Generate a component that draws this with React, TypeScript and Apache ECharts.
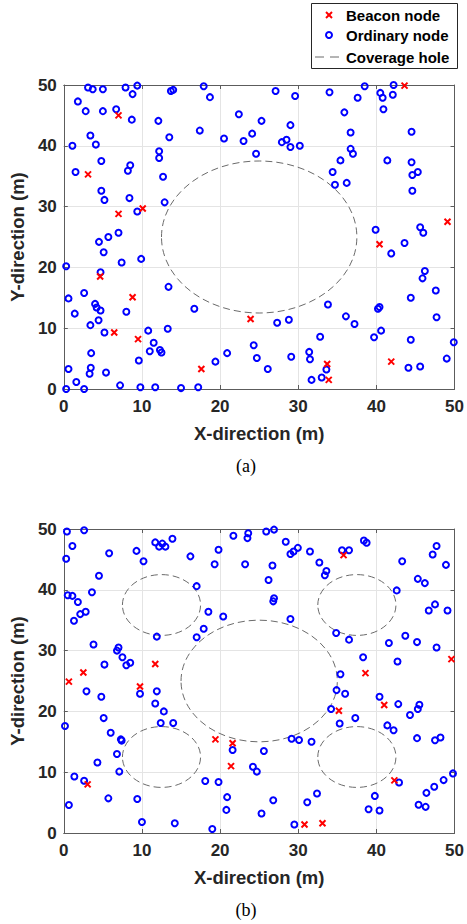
import React, { useEffect, useRef } from "react";
import * as echarts from "echarts";

// ---------- data (metres) ----------
const ordinaryA: number[][] = [
  [3.1, 49.6], [3.7, 49.3], [5.0, 49.3], [7.9, 49.6], [9.4, 49.9], [8.8, 48.5], [13.7, 49.0], [14.0, 49.2],
  [17.9, 49.8], [18.7, 48.0], [1.8, 47.3], [2.8, 45.7], [5.0, 45.7], [6.7, 46.0], [8.7, 44.3], [12.1, 44.1],
  [17.4, 42.5], [20.5, 41.2], [22.4, 45.2], [23.0, 40.8], [13.5, 41.4], [3.4, 41.7], [4.1, 40.2], [1.1, 40.0],
  [12.2, 39.1], [12.2, 38.0], [4.8, 37.5], [8.5, 36.8], [8.2, 35.9], [1.5, 35.7], [12.7, 34.9], [4.8, 32.6],
  [5.2, 31.1], [8.4, 31.4], [12.9, 30.7], [9.4, 29.2], [7.0, 25.7], [5.7, 25.0], [4.5, 24.2],
  [5.1, 22.5], [7.4, 20.8], [9.9, 21.4], [0.3, 20.2], [4.7, 19.2], [13.4, 16.8], [2.6, 15.8], [0.6, 14.9],
  [4.0, 14.0], [4.2, 13.4], [4.7, 12.9], [1.4, 12.4], [8.0, 12.7], [16.7, 13.2], [4.45, 11.3], [3.4, 10.5],
  [5.2, 9.3], [10.8, 9.6], [13.3, 9.9], [11.5, 7.6], [11.0, 6.2], [12.3, 6.4], [12.5, 6.0], [3.5, 5.9],
  [9.6, 4.7], [19.4, 4.5], [20.9, 5.9], [0.6, 3.3], [3.45, 3.5], [3.3, 2.5], [5.4, 2.7], [1.6, 1.15],
  [0.3, 0.0], [2.6, 0.0], [7.2, 0.6], [9.8, 0.3], [11.7, 0.3], [15.0, 0.15], [17.2, 0.3],
  [27.1, 49.0], [29.6, 48.2], [34.0, 48.8], [38.5, 49.8], [37.6, 47.9], [40.5, 48.7], [40.8, 47.9], [42.2, 50.0],
  [42.1, 48.4], [40.9, 46.0], [25.3, 44.1], [24.1, 42.0], [29.0, 43.4], [35.9, 45.5], [36.7, 42.2], [27.9, 40.6],
  [28.5, 41.0], [29.0, 39.8], [30.2, 40.0], [24.6, 38.7], [36.7, 39.5], [37.0, 38.7], [35.4, 37.6], [34.4, 35.7],
  [34.7, 33.6], [36.2, 33.9], [41.4, 37.6], [44.5, 42.3], [44.5, 37.3], [45.3, 35.7], [44.6, 35.2], [44.6, 32.6],
  [39.9, 26.2], [43.6, 24.0], [45.6, 26.6], [46.0, 25.7],
  [41.9, 22.3], [46.2, 19.4], [45.9, 18.2], [47.6, 16.2], [44.4, 15.0], [33.8, 13.9], [40.2, 13.2], [40.4, 13.5],
  [36.1, 11.95], [37.2, 10.7], [47.7, 11.8], [27.3, 10.9], [28.8, 11.4], [24.3, 7.2], [24.7, 5.1], [26.1, 3.3],
  [29.1, 5.3], [32.8, 8.6], [31.4, 6.1], [31.5, 4.9], [39.7, 8.5], [40.6, 9.6], [44.4, 8.1], [49.9, 7.7],
  [49.0, 5.0], [44.1, 3.5], [45.6, 3.7], [33.6, 3.2], [33.0, 1.9], [31.7, 1.5],
];

const beaconA: number[][] = [
  [7.0, 45.0], [3.1, 35.3], [10.1, 29.7], [7.0, 28.8], [4.65, 18.5], [8.8, 15.1], [6.45, 9.3], [9.5, 8.2],
  [17.6, 3.3], [23.9, 11.5], [33.7, 4.1], [33.9, 1.5], [41.9, 4.5], [40.4, 23.8], [49.1, 27.5], [43.6, 49.9],
];

// [centre x, centre y, radius]
const holesA: number[][] = [[25, 25, 12.5]];

const ordinaryB: number[][] = [
  [0.4, 49.6], [2.6, 49.8], [1.1, 47.2], [0.3, 45.1], [5.8, 46.0], [9.3, 46.4], [10.2, 44.7], [11.7, 47.8],
  [12.2, 47.1], [12.6, 47.6], [13.0, 47.1], [13.9, 48.4], [16.2, 45.5], [19.8, 46.6], [19.3, 44.2], [21.7, 48.9],
  [23.2, 44.2], [4.5, 42.3], [3.6, 39.6], [0.5, 39.1], [1.1, 39.0], [1.8, 38.0], [2.8, 36.4], [2.1, 36.0],
  [1.3, 34.9], [17.0, 40.6], [18.5, 36.4], [20.4, 35.6], [17.9, 33.6], [17.0, 32.2], [11.9, 32.3], [3.8, 31.0],
  [7.0, 30.5], [6.8, 30.0], [7.5, 28.9], [8.5, 28.0], [8.0, 27.6], [5.2, 27.7],
  [2.9, 23.3], [4.8, 22.4], [9.75, 22.9], [11.9, 23.3], [11.7, 21.3], [12.8, 20.0], [12.4, 18.1], [14.0, 18.1],
  [0.15, 17.6], [5.1, 18.9], [6.0, 16.5], [7.3, 15.4], [7.4, 15.2], [6.8, 13.0], [4.3, 11.6], [7.1, 10.1],
  [1.35, 9.3], [2.6, 8.6], [0.65, 4.6], [5.7, 5.7], [9.4, 5.6], [10.0, 1.8], [14.2, 1.6], [19.0, 0.65],
  [18.1, 8.55], [19.8, 8.4], [20.9, 5.9], [20.8, 3.8], [21.6, 13.65],
  [23.6, 49.3], [23.5, 48.5], [25.9, 49.6], [26.9, 49.9], [28.4, 47.9], [29.0, 45.9], [29.4, 46.3], [29.95, 46.9],
  [31.5, 46.3], [26.7, 44.0], [26.2, 41.6], [32.7, 44.5], [33.6, 43.1], [33.4, 42.4], [35.6, 46.5], [36.5, 46.5],
  [38.4, 48.1], [38.75, 47.75], [43.3, 44.7], [47.7, 47.2], [47.2, 45.8], [48.9, 44.1], [45.3, 41.8], [46.2, 41.1],
  [42.6, 39.9], [26.9, 38.6], [26.8, 38.1], [47.5, 37.6], [46.7, 36.6], [49.1, 36.6], [29.0, 35.2], [34.85, 32.9],
  [36.5, 31.8], [41.6, 31.25], [43.7, 32.45], [45.2, 31.4], [47.7, 30.5], [38.3, 28.9], [42.7, 28.2], [35.4, 26.1],
  [34.9, 23.5], [36.0, 22.9], [34.2, 20.4], [35.3, 18.0], [37.3, 18.9], [40.4, 22.4], [42.8, 21.2], [44.3, 19.4],
  [45.5, 21.1], [45.3, 20.4], [41.4, 17.7], [42.2, 16.9], [45.2, 15.6], [47.5, 15.25], [48.2, 15.7], [29.15, 15.5],
  [30.1, 15.3], [31.7, 15.0], [25.6, 13.5], [24.2, 10.9], [24.7, 10.1], [49.8, 9.8], [48.6, 8.7], [47.4, 7.6],
  [46.4, 6.6], [42.9, 8.3], [39.8, 6.1], [39.0, 3.9], [40.4, 3.7], [45.4, 4.65], [46.3, 4.3], [32.4, 6.5],
  [31.15, 5.05], [26.8, 5.4], [25.3, 3.2], [29.5, 1.4],
];

const beaconB: number[][] = [
  [11.7, 27.8], [2.5, 26.4], [0.65, 24.9], [9.75, 24.1], [3.05, 8.0], [19.4, 15.4], [21.6, 14.75], [21.4, 11.0],
  [35.8, 45.7], [49.6, 28.6], [38.6, 26.3], [35.2, 20.1], [41.0, 21.05], [42.3, 8.65], [30.8, 1.4], [33.1, 1.6],
];

const holesB: number[][] = [
  [25, 25, 10], [12.5, 37.5, 5], [37.5, 37.5, 5], [12.5, 12.5, 5], [37.5, 12.5, 5],
];

const axisMin = 0;
const axisMax = 50;
const axisStep = 10;
const xTitle = "X-direction (m)";
const yTitle = "Y-direction (m)";
const legendNames = ["Beacon node", "Ordinary node", "Coverage hole"];
const panelLabels = ["(a)", "(b)"];

// ---------- styling ----------
const FONT = "'Liberation Sans', Arial, sans-serif";
const AXIS_COLOR = "#5c5c5c";
const TEXT_COLOR = "#262626";
const GRID_COLOR = "#e4e4e4";
const HOLE_COLOR = "#6b6b6b";

const tickLabel = { fontFamily: FONT, fontSize: 17, fontWeight: "bold", color: TEXT_COLOR };
const titleStyle = { fontFamily: FONT, fontSize: 18.5, fontWeight: "bold", color: TEXT_COLOR };

function mainX(gridIndex: number) {
  return {
    type: "value", gridIndex, min: axisMin, max: axisMax, interval: axisStep, position: "bottom",
    name: xTitle, nameLocation: "middle", nameGap: 35, nameTextStyle: titleStyle,
    axisLine: { show: true, onZero: false, lineStyle: { color: AXIS_COLOR, width: 1 } },
    axisTick: { show: true, inside: true, length: 4, lineStyle: { color: AXIS_COLOR } },
    axisLabel: { margin: 9, ...tickLabel },
    splitLine: { show: true, lineStyle: { color: GRID_COLOR, width: 1 } },
  };
}
function boxX(gridIndex: number) {
  return {
    type: "value", gridIndex, min: axisMin, max: axisMax, interval: axisStep, position: "top",
    axisLine: { show: true, onZero: false, lineStyle: { color: AXIS_COLOR, width: 1 } },
    axisTick: { show: true, inside: true, length: 4, lineStyle: { color: AXIS_COLOR } },
    axisLabel: { show: false }, splitLine: { show: false },
  };
}
function mainY(gridIndex: number) {
  return {
    type: "value", gridIndex, min: axisMin, max: axisMax, interval: axisStep, position: "left",
    name: yTitle, nameLocation: "middle", nameGap: 30, nameTextStyle: titleStyle,
    axisLine: { show: true, onZero: false, lineStyle: { color: AXIS_COLOR, width: 1 } },
    axisTick: { show: true, inside: true, length: 4, lineStyle: { color: AXIS_COLOR } },
    axisLabel: { margin: 7, ...tickLabel },
    splitLine: { show: true, lineStyle: { color: GRID_COLOR, width: 1 } },
  };
}
function boxY(gridIndex: number) {
  return {
    type: "value", gridIndex, min: axisMin, max: axisMax, interval: axisStep, position: "right",
    axisLine: { show: true, onZero: false, lineStyle: { color: AXIS_COLOR, width: 1 } },
    axisTick: { show: true, inside: true, length: 4, lineStyle: { color: AXIS_COLOR } },
    axisLabel: { show: false }, splitLine: { show: false },
  };
}

function holeSeries(idx: number, data: number[][]) {
  return {
    type: "custom", xAxisIndex: idx, yAxisIndex: idx, data, silent: true, clip: false, z: 1,
    encode: { x: 0, y: 1 },
    renderItem: (_params: any, api: any) => {
      const c = api.coord([api.value(0), api.value(1)]);
      const s = api.size([api.value(2), api.value(2)]);
      return {
        type: "ellipse",
        shape: { cx: c[0], cy: c[1], rx: s[0], ry: s[1] },
        style: { fill: "none", stroke: HOLE_COLOR, lineWidth: 1, lineDash: [7, 4] },
      };
    },
  };
}
function nodeSeries(idx: number, data: number[][]) {
  return {
    type: "scatter", name: legendNames[1], xAxisIndex: idx, yAxisIndex: idx, data, clip: false, z: 2,
    symbol: "circle", symbolSize: 6,
    itemStyle: { color: "rgba(0,0,0,0)", borderColor: "#0000ff", borderWidth: 2, opacity: 1 },
  };
}
function beaconSeries(idx: number, data: number[][]) {
  return {
    type: "scatter", name: legendNames[0], xAxisIndex: idx, yAxisIndex: idx, data, clip: false, z: 3,
    symbol: "path://M0,0L10,10M10,0L0,10", symbolSize: 6,
    itemStyle: { color: "#ff0000", borderColor: "#ff0000", borderWidth: 2, opacity: 1 },
  };
}

const legendText = { fontFamily: FONT, fontSize: 15, fontWeight: "bold", fill: "#000000" };

const option: any = {
  animation: false,
  backgroundColor: "#ffffff",
  grid: [
    { left: 56, top: 85, width: 401, height: 304 },
    { left: 56, top: 529, width: 401, height: 304 },
  ],
  xAxis: [mainX(0), mainX(1), boxX(0), boxX(1)],
  yAxis: [mainY(0), mainY(1), boxY(0), boxY(1)],
  series: [
    holeSeries(0, holesA), nodeSeries(0, ordinaryA), beaconSeries(0, beaconA),
    holeSeries(1, holesB), nodeSeries(1, ordinaryB), beaconSeries(1, beaconB),
  ],
  graphic: [
    {
      type: "rect", shape: { x: 311.5, y: 3.5, width: 146, height: 65 },
      style: { fill: "#ffffff", stroke: "#262626", lineWidth: 1 }, z: 10,
    },
    { type: "line", shape: { x1: 326, y1: 12, x2: 332, y2: 18 }, style: { stroke: "#ff0000", lineWidth: 2 }, z: 11 },
    { type: "line", shape: { x1: 332, y1: 12, x2: 326, y2: 18 }, style: { stroke: "#ff0000", lineWidth: 2 }, z: 11 },
    { type: "circle", shape: { cx: 329, cy: 35, r: 3 }, style: { fill: "none", stroke: "#0000ff", lineWidth: 2 }, z: 11 },
    {
      type: "line", shape: { x1: 315, y1: 57, x2: 339, y2: 57 },
      style: { stroke: HOLE_COLOR, lineWidth: 1, lineDash: [9, 6] }, z: 11,
    },
    { type: "text", x: 346, y: 15, style: { text: legendNames[0], ...legendText, verticalAlign: "middle" }, z: 11 },
    { type: "text", x: 346, y: 35, style: { text: legendNames[1], ...legendText, verticalAlign: "middle" }, z: 11 },
    { type: "text", x: 346, y: 57, style: { text: legendNames[2], ...legendText, verticalAlign: "middle" }, z: 11 },
    {
      type: "text", x: 246, y: 466,
      style: { text: panelLabels[0], fontFamily: "'Liberation Serif', 'Times New Roman', serif", fontSize: 18, fill: "#000", align: "center", verticalAlign: "middle" },
    },
    {
      type: "text", x: 246, y: 910,
      style: { text: panelLabels[1], fontFamily: "'Liberation Serif', 'Times New Roman', serif", fontSize: 18, fill: "#000", align: "center", verticalAlign: "middle" },
    },
  ],
};

export default function App() {
  const ref = useRef<HTMLDivElement>(null);
  useEffect(() => {
    document.body.style.margin = "0";
    const chart = echarts.init(ref.current!, null, { renderer: "svg" });
    chart.setOption(option);
    return () => chart.dispose();
  }, []);
  return (
    <div
      ref={ref}
      style={{ position: "absolute", left: 0, top: 0, width: 467, height: 924, background: "#fff" }}
    />
  );
}
